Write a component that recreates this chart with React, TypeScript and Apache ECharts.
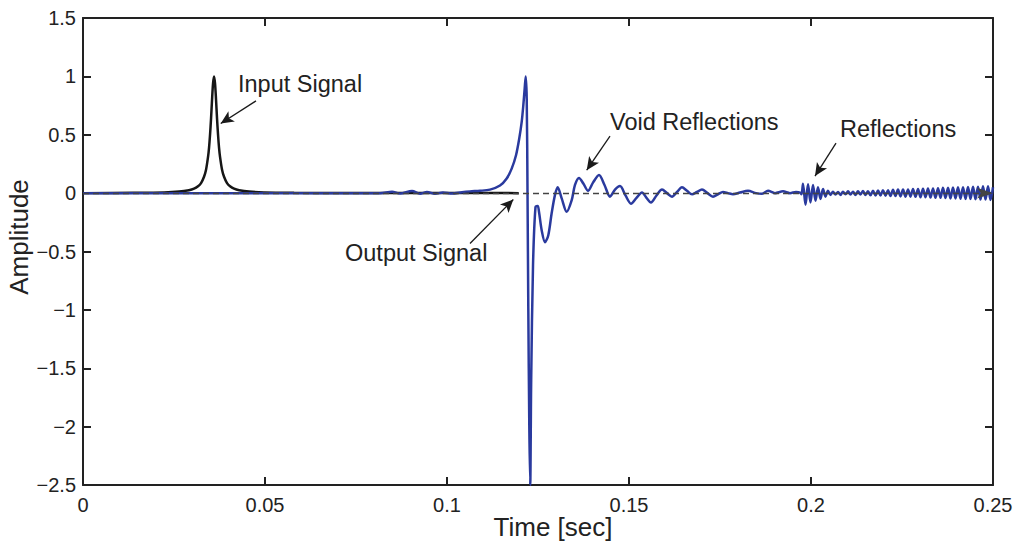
import React, { useEffect, useRef } from "react";
import * as echarts from "echarts";

const FONT = "'Liberation Sans', Arial, Helvetica, sans-serif";
const BLUE = "#2a3a9e";
const BLACK = "#161616";
const AXIS = "#222222";

// Axis ranges
const xMin = 0, xMax = 0.25, xInterval = 0.05;
const yMin = -2.5, yMax = 1.5, yInterval = 0.5;

// Input signal (black) : [time, amplitude]
const inputSignal: [number, number][] = [
  [0, 0], [0.014, 0.0025], [0.0223, 0.006], [0.0264, 0.013], [0.0291, 0.025],
  [0.0305, 0.038], [0.0316, 0.059], [0.03243, 0.086], [0.03325, 0.14], [0.0338, 0.2],
  [0.03435, 0.31], [0.03463, 0.39], [0.0349, 0.5], [0.03518, 0.64], [0.03545, 0.8],
  [0.03573, 0.94], [0.036, 1.0], [0.03627, 0.94], [0.03655, 0.8], [0.03682, 0.64],
  [0.0371, 0.5], [0.03737, 0.39], [0.03765, 0.31], [0.0382, 0.2], [0.03875, 0.14],
  [0.03957, 0.086], [0.0404, 0.059], [0.0415, 0.038], [0.0429, 0.025], [0.0456, 0.013],
  [0.0497, 0.006], [0.058, 0.0025], [0.07, 0.001], [0.1197, 0],
];

// Output signal (blue), main pulse and void reflections : [time, amplitude]
const outputSignal: [number, number][] = [
  [0, 0], [0.04, 0.0], [0.0816, 0.0], [0.0849, 0.012], [0.0871, -0.004], [0.0904, 0.018],
  [0.0926, -0.005], [0.0945, 0.01], [0.0967, -0.006], [0.0989, 0.006], [0.1014, -0.004],
  [0.1041, 0.008], [0.10632, 0.015], [0.10907, 0.02], [0.11181, 0.03], [0.11456, 0.065],
  [0.1164, 0.125], [0.11777, 0.21], [0.11896, 0.325], [0.11986, 0.47], [0.12052, 0.61],
  [0.12096, 0.75], [0.12135, 0.9], [0.12162, 1.0], [0.1219, 0.81], [0.12212, 0.0],
  [0.12234, -1.0], [0.12261, -2.0], [0.12286, -2.5], [0.12313, -1.6], [0.12363, -0.62],
  [0.12431, -0.12], [0.12492, -0.11], [0.12527, -0.16], [0.12602, -0.32], [0.12692, -0.42],
  [0.12783, -0.36], [0.12876, -0.17], [0.12967, -0.015], [0.13041, 0.05], [0.13151, -0.045],
  [0.13288, -0.16], [0.13426, -0.06], [0.13516, 0.07], [0.13626, 0.13], [0.1375, 0.08],
  [0.13874, 0.02], [0.14011, 0.09], [0.14176, 0.155], [0.14327, 0.07], [0.14478, -0.03],
  [0.14615, 0.03], [0.14753, 0.06], [0.14904, -0.02], [0.15055, -0.09], [0.15206, -0.04],
  [0.15357, 0.005], [0.15481, -0.04], [0.15604, -0.08], [0.15755, -0.02], [0.15907, 0.03],
  [0.16044, 0.0], [0.16181, -0.03], [0.16319, 0.01], [0.16456, 0.05], [0.16593, 0.02],
  [0.16731, -0.01], [0.16868, 0.01], [0.17005, 0.03], [0.17157, 0.0], [0.17308, -0.03],
  [0.17445, -0.01], [0.17582, 0.01], [0.1772, 0.0], [0.17857, -0.01], [0.18049, 0.005],
  [0.18269, 0.02], [0.18489, 0.0], [0.18654, -0.005], [0.18819, 0.02], [0.19011, 0.0],
  [0.19231, 0.015], [0.19423, 0.0], [0.19588, 0.01], [0.19698, 0.005], [0.19739, -0.01],
];

// Output signal (blue), boundary reflections : [time, amplitude]
const reflections: [number, number][] = [
  [0.1978, 0.08], [0.19849, -0.1], [0.19918, 0.075], [0.19986, -0.08], [0.20055, 0.07],
  [0.20124, -0.065], [0.20192, 0.05], [0.20261, -0.05], [0.2033, 0.035], [0.20398, -0.03],
  [0.20467, 0.02], [0.20536, -0.015], [0.20604, 0.012], [0.20673, -0.012], [0.20742, 0.01],
  [0.2081, -0.015], [0.20879, 0.012], [0.20948, -0.01], [0.21017, 0.015], [0.21085, -0.012],
  [0.21154, 0.012], [0.21223, -0.015], [0.21291, 0.015], [0.2136, -0.012], [0.21429, 0.018],
  [0.21497, -0.015], [0.21566, 0.015], [0.21635, -0.018], [0.21703, 0.02], [0.21772, -0.02],
  [0.21841, 0.022], [0.21909, -0.02], [0.21978, 0.025], [0.22047, -0.022], [0.22115, 0.025],
  [0.22184, -0.025], [0.22253, 0.028], [0.22321, -0.025], [0.2239, 0.03], [0.22459, -0.028],
  [0.22528, 0.03], [0.22596, -0.03], [0.22665, 0.032], [0.22734, -0.03], [0.22802, 0.035],
  [0.22871, -0.032], [0.2294, 0.035], [0.23008, -0.035], [0.23077, 0.038], [0.23146, -0.035],
  [0.23214, 0.04], [0.23283, -0.038], [0.23352, 0.04], [0.2342, -0.04], [0.23489, 0.042],
  [0.23558, -0.04], [0.23626, 0.045], [0.23695, -0.042], [0.23764, 0.045], [0.23832, -0.045],
  [0.23901, 0.048], [0.2397, -0.045], [0.24038, 0.05], [0.24107, -0.048], [0.24176, 0.05],
  [0.24245, -0.05], [0.24313, 0.052], [0.24382, -0.05], [0.24451, 0.055], [0.24519, -0.052],
  [0.24588, 0.055], [0.24657, -0.055], [0.24725, 0.058], [0.24794, -0.055], [0.24863, 0.058],
  [0.24931, -0.058], [0.25, 0.05],
];

// Annotation arrows: [fromTime, fromAmp, toTime, toAmp]
const arrows: [number, number, number, number][] = [
  [0.04753, 0.79, 0.03783, 0.597],
  [0.10632, -0.431, 0.11822, -0.054],
  [0.14478, 0.488, 0.13838, 0.197],
  [0.20687, 0.428, 0.2011, 0.146],
];

// Annotation texts
const annotations = [
  { text: "Input Signal", x: 238, y: 84 },
  { text: "Output Signal", x: 345, y: 253 },
  { text: "Void Reflections", x: 610, y: 122 },
  { text: "Reflections", x: 840, y: 129 },
];

const fmtX = (v: number) => String(parseFloat(v.toFixed(2)));
const fmtY = (v: number) => {
  const r = parseFloat(v.toFixed(1));
  return r < 0 ? "\u2212" + String(Math.abs(r)) : String(r);
};

export default function App() {
  const ref = useRef<HTMLDivElement>(null);
  useEffect(() => {
    if (!ref.current) return;
    const chart = echarts.init(ref.current, undefined, { renderer: "svg" });
    const axisLine = { show: true, onZero: false, lineStyle: { color: AXIS, width: 2 } };
    const axisTick = { show: true, inside: true, length: 8, lineStyle: { color: AXIS, width: 2 } };
    const labelStyle = { color: "#222", fontSize: 20, fontFamily: FONT };
    const textEl = (t: string, x: number, y: number, size: number, align: string, rotation = 0) => ({
      type: "text",
      x,
      y,
      rotation,
      silent: true,
      style: {
        text: t,
        fill: "#222",
        font: `${size}px ${FONT}`,
        fontSize: size,
        fontFamily: FONT,
        align,
        textAlign: align,
        verticalAlign: "middle",
        textVerticalAlign: "middle",
      },
    });
    chart.setOption({
      animation: false,
      backgroundColor: "#ffffff",
      grid: { left: 83, top: 18, right: 28, bottom: 63, containLabel: false },
      xAxis: [
        {
          type: "value", min: xMin, max: xMax, interval: xInterval, position: "bottom",
          axisLine, axisTick, splitLine: { show: false },
          axisLabel: { ...labelStyle, margin: 10, formatter: fmtX },
        },
        {
          type: "value", min: xMin, max: xMax, interval: xInterval, position: "top",
          axisLine, axisTick, splitLine: { show: false }, axisLabel: { show: false },
        },
      ],
      yAxis: [
        {
          type: "value", min: yMin, max: yMax, interval: yInterval, position: "left",
          axisLine, axisTick, splitLine: { show: false },
          axisLabel: { ...labelStyle, margin: 7, formatter: fmtY },
        },
        {
          type: "value", min: yMin, max: yMax, interval: yInterval, position: "right",
          axisLine, axisTick, splitLine: { show: false }, axisLabel: { show: false },
        },
      ],
      series: [
        {
          type: "line", name: "Input Signal", data: inputSignal, showSymbol: false, symbol: "none",
          smooth: 0.3, lineStyle: { color: BLACK, width: 2.5 }, z: 2, silent: true,
        },
        {
          type: "line", name: "Output Signal", data: [...outputSignal, ...reflections],
          showSymbol: false, symbol: "none", smooth: 0.3,
          lineStyle: { color: BLUE, width: 2.5 }, z: 3, silent: true,
          markLine: {
            silent: true,
            animation: false,
            symbol: ["none", "arrow"],
            label: { show: false },
            emphasis: { disabled: true },
            data: [
              { yAxis: 0, symbol: "none", lineStyle: { color: "#444", width: 1.3, type: [6, 4] } },
              ...arrows.map((a) => [
                { coord: [a[0], a[1]], symbol: "none", lineStyle: { color: "#1a1a1a", width: 1.3, type: "solid" } },
                { coord: [a[2], a[3]], symbol: "arrow", symbolSize: [9, 13] },
              ]),
            ],
          },
        },
      ],
      graphic: [
        ...annotations.map((a) => textEl(a.text, a.x, a.y, 23.5, "left")),
        textEl("Time [sec]", 553, 527, 26, "center"),
        textEl("Amplitude", 19, 237, 26, "center", Math.PI / 2),
      ],
    });
    return () => chart.dispose();
  }, []);
  return (
    <div
      ref={ref}
      style={{ position: "fixed", left: 0, top: 0, width: 1021, height: 548, background: "#fff" }}
    />
  );
}
